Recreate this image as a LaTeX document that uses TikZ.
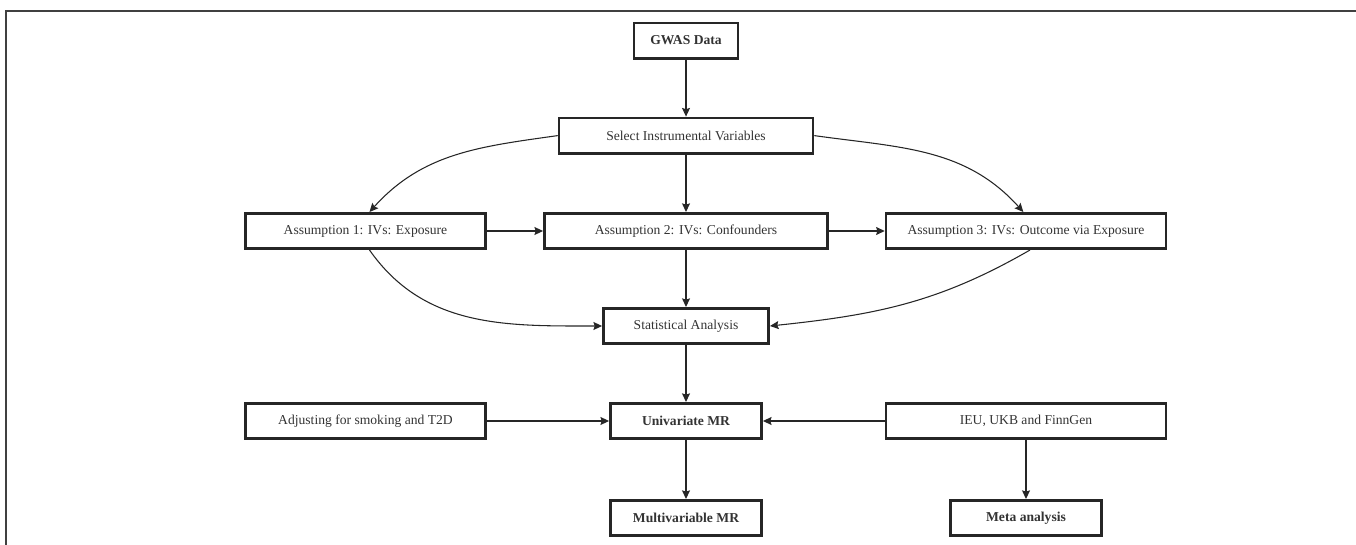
\documentclass[tikz,border=0pt]{standalone}
\usepackage{fontspec}
\setmainfont{Liberation Serif}
\usetikzlibrary{arrows.meta}

\begin{document}
\begin{tikzpicture}[
                x=0.75pt, y=0.75pt,
                box/.style={rectangle, draw=black!85, line width=1.9pt, minimum height=26.6pt,
                        inner sep=2pt, text=black!80, font=\fontsize{10.2}{12}\selectfont},
                boldbox/.style={box, font=\fontsize{10.2}{12}\selectfont\bfseries},
                flow/.style={draw=black!85, line width=0.8pt,
                        -{Stealth[length=6.5pt,width=6pt,inset=1pt]}}
            ]

            \useasboundingbox (0,0) rectangle (1356,-545);
            \draw[line width=1.1pt, black!75] (6,-545) -- (6,-11) -- (1356,-11);

            \node[boldbox, minimum width=78pt] (gwas) at (686,-40.6) {GWAS Data};
            \node[box, minimum width=190.5pt] (select) at (686,-135.6) {Select Instrumental Variables};

            \node[box, minimum width=180pt] (assume1) at (365.5,-231) {Assumption 1: IVs: Exposure};
            \node[box, minimum width=212.5pt] (assume2) at (686,-231) {Assumption 2: IVs: Confounders};
            \node[box, minimum width=210pt] (assume3) at (1026,-231) {Assumption 3: IVs: Outcome via Exposure};

            \node[box, minimum width=124pt] (stat) at (686,-326) {Statistical Analysis};

            \node[box, minimum width=180pt] (adjust) at (365.5,-421) {Adjusting for smoking and T2D};
            \node[boldbox, minimum width=113.5pt] (univ) at (686,-421) {Univariate MR};
            \node[box, minimum width=210pt] (ieu) at (1026,-421) {IEU, UKB and FinnGen};

            \node[boldbox, minimum width=113.5pt] (multi) at (686,-518) {Multivariable MR};
            \node[boldbox, minimum width=113.5pt] (meta) at (1026,-518) {Meta analysis};

            \draw[flow] (gwas) -- (select);
            \draw[flow] (select.west) to[out=188, in=48] ([xshift=3pt]assume1.north);
            \draw[flow] (select) -- (assume2);
            \draw[flow] (select.east) to[out=-8, in=132] ([xshift=-2pt]assume3.north);

            \draw[flow] (assume1) -- (assume2);
            \draw[flow] (assume2) -- (assume3);

            \draw[flow] ([xshift=3pt]assume1.south) to[out=-55, in=180] (stat.west);
            \draw[flow] (assume2) -- (stat);
            \draw[flow] ([xshift=3pt]assume3.south) to[out=-150, in=6] (stat.east);

            \draw[flow] (stat) -- (univ);
            \draw[flow] (adjust) -- (univ);
            \draw[flow] (ieu) -- (univ);
            \draw[flow] (univ) -- (multi);
            \draw[flow] (ieu) -- (meta);

        \end{tikzpicture}
\end{document}
